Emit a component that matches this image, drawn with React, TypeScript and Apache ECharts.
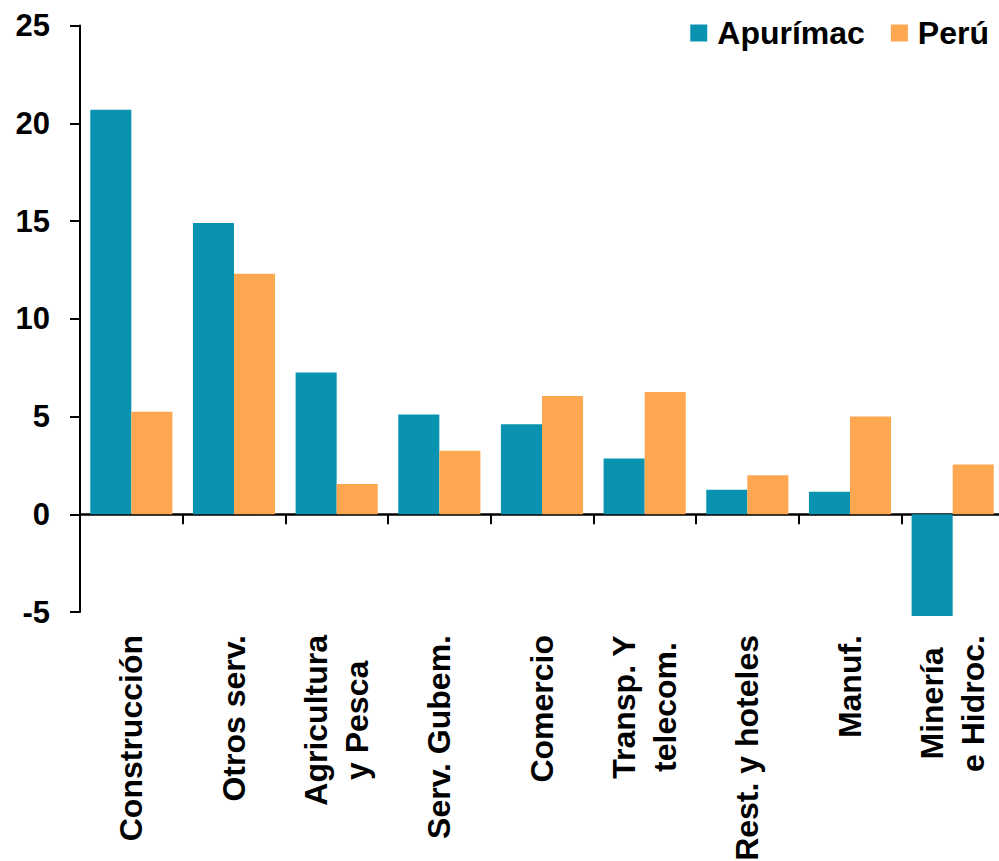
import React, { useEffect, useRef } from "react";
import * as echarts from "echarts";

const categories = [
  "Construcción",
  "Otros serv.",
  "Agricultura\ny Pesca",
  "Serv. Gubem.",
  "Comercio",
  "Transp. Y\ntelecom.",
  "Rest. y hoteles",
  "Manuf.",
  "Minería\ne Hidroc.",
];
const apurimac = [20.7, 14.9, 7.25, 5.1, 4.6, 2.85, 1.25, 1.15, -5.2];
const peru = [5.25, 12.3, 1.55, 3.25, 6.05, 6.25, 2.0, 5.0, 2.55];
const seriesNames = ["Apurímac", "Perú"];
const colors = ["#0A93B0", "#FEA751"];
const yMin = -5;
const yMax = 25;
const yStep = 5;

const FONT = "'Liberation Sans', Arial, sans-serif";

export default function App() {
  const ref = useRef<HTMLDivElement>(null);
  useEffect(() => {
    if (!ref.current) return;
    const chart = echarts.init(ref.current, null, { renderer: "svg" });
    chart.setOption({
      animation: false,
      backgroundColor: "#ffffff",
      legend: {
        right: 5,
        top: 12,
        itemWidth: 17,
        itemHeight: 17,
        itemGap: 26,
        icon: "rect",
        textStyle: {
          fontFamily: FONT,
          fontWeight: "bold",
          fontSize: 32,
          color: "#000",
          padding: [0, 0, 0, 5],
        },
        data: seriesNames,
      },
      grid: {
        left: 80,
        right: -5,
        top: 25.6,
        bottom: 249,
        containLabel: false,
        outerBoundsMode: "none",
      },
      xAxis: {
        type: "category",
        data: categories,
        axisLine: { onZero: true, lineStyle: { color: "#000", width: 2.5 } },
        axisTick: { show: true, interval: 0, length: 10, lineStyle: { color: "#000", width: 2 } },
        axisLabel: {
          interval: 0,
          rotate: 90,
          margin: 23,
          fontFamily: FONT,
          fontWeight: "bold",
          fontSize: 32,
          color: "#000",
          lineHeight: 41,
          formatter: (v: string) =>
            v
              .split("\n")
              .map((l) => `{c|${l}}`)
              .join("\n"),
          rich: {
            c: {
              align: "center",
              fontFamily: FONT,
              fontWeight: "bold",
              fontSize: 32,
              color: "#000",
              lineHeight: 41,
            },
          },
        },
      },
      yAxis: {
        type: "value",
        min: yMin,
        max: yMax,
        interval: yStep,
        splitLine: { show: false },
        axisLine: { show: true, lineStyle: { color: "#000", width: 2 } },
        axisTick: { show: true, length: 10, lineStyle: { color: "#000", width: 2 } },
        axisLabel: {
          margin: 30,
          fontFamily: FONT,
          fontWeight: "bold",
          fontSize: 31,
          color: "#000",
        },
      },
      series: [
        {
          name: seriesNames[0],
          type: "bar",
          data: apurimac,
          barGap: "0%",
          barCategoryGap: "20%",
          clip: false,
          itemStyle: { color: colors[0] },
        },
        {
          name: seriesNames[1],
          type: "bar",
          data: peru,
          barGap: "0%",
          barCategoryGap: "20%",
          clip: false,
          itemStyle: { color: colors[1] },
        },
      ],
    });
    return () => chart.dispose();
  }, []);
  return (
    <div
      ref={ref}
      style={{ position: "fixed", left: 0, top: 0, width: 999, height: 861, background: "#fff" }}
    />
  );
}
